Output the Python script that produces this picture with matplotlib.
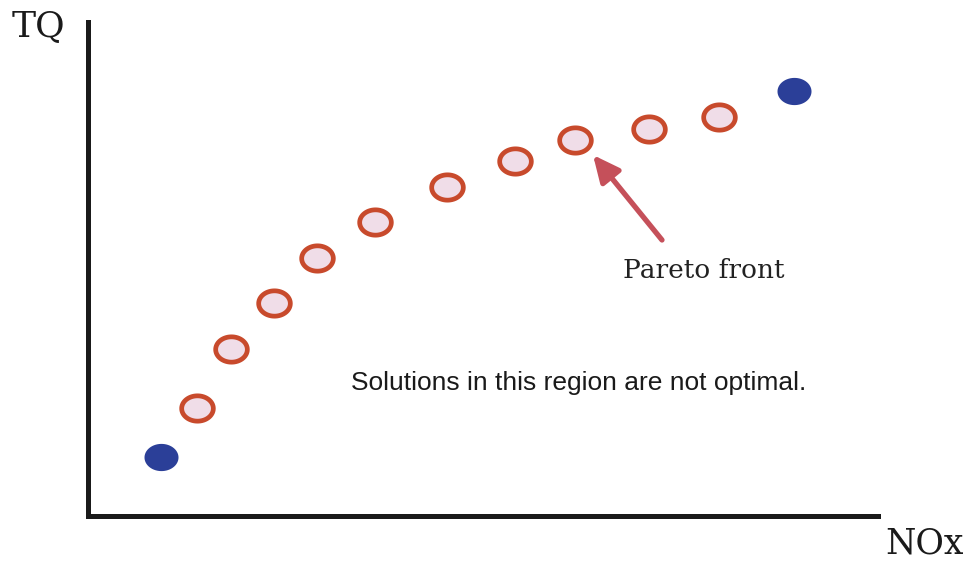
import numpy as np
import matplotlib
matplotlib.use("Agg")
import matplotlib.pyplot as plt
from matplotlib.path import Path

# trade-off points (axis units, origin at the axes corner)
front_x = [109, 143, 186, 229, 287, 359, 427, 487, 561, 631]
front_y = [108, 167, 213, 258, 294, 329, 355, 376, 387, 399]
extreme_x = [73, 706]
extreme_y = [59, 425]

W, H = 970, 564
fig = plt.figure(figsize=(W / 100, H / 100), dpi=100)
ax = fig.add_axes([88 / W, (H - 516) / H, (878 - 88) / W, (516 - 22) / H])
ax.set_xlim(0, 790)
ax.set_ylim(0, 494)

# flattened ellipse marker
t = np.linspace(0, 2 * np.pi, 60)
ell = Path(np.column_stack([np.cos(t), 0.8 * np.sin(t)]), closed=True)

ax.plot(front_x, front_y, linestyle='none', marker=ell, markersize=22.8,
        markerfacecolor='#f0dde8', markeredgecolor='#c84a2c', markeredgewidth=3.4)
ax.plot(extreme_x, extreme_y, linestyle='none', marker=ell, markersize=24.5,
        markerfacecolor='#2b3f98', markeredgecolor='none')

ax.annotate('', xy=(505, 361), xytext=(574, 276),
            arrowprops=dict(arrowstyle='-|>,head_length=1.6,head_width=0.75',
                            color='#c5505a', lw=3.8, shrinkA=0, shrinkB=0))
ax.text(616, 246, 'Pareto front', family='DejaVu Serif', fontsize=19,
        ha='center', va='center', color='#222222')
ax.text(491, 133, 'Solutions in this region are not optimal.',
        family='Liberation Sans', fontsize=19, ha='center', va='center',
        color='#1a1a1a')

for side in ['top', 'right']:
    ax.spines[side].set_visible(False)
for side in ['left', 'bottom']:
    ax.spines[side].set_linewidth(3.6)
    ax.spines[side].set_color('#1a1a1a')
ax.set_xticks([])
ax.set_yticks([])

fig.text(38 / W, 1 - 27 / H, 'TQ', family='DejaVu Serif', fontsize=26,
         ha='center', va='center', color='#1a1a1a')
fig.text(924 / W, 1 - 544 / H, 'NOx', family='DejaVu Serif', fontsize=25,
         ha='center', va='center', color='#1a1a1a')

fig.savefig('out.png', dpi=100)
